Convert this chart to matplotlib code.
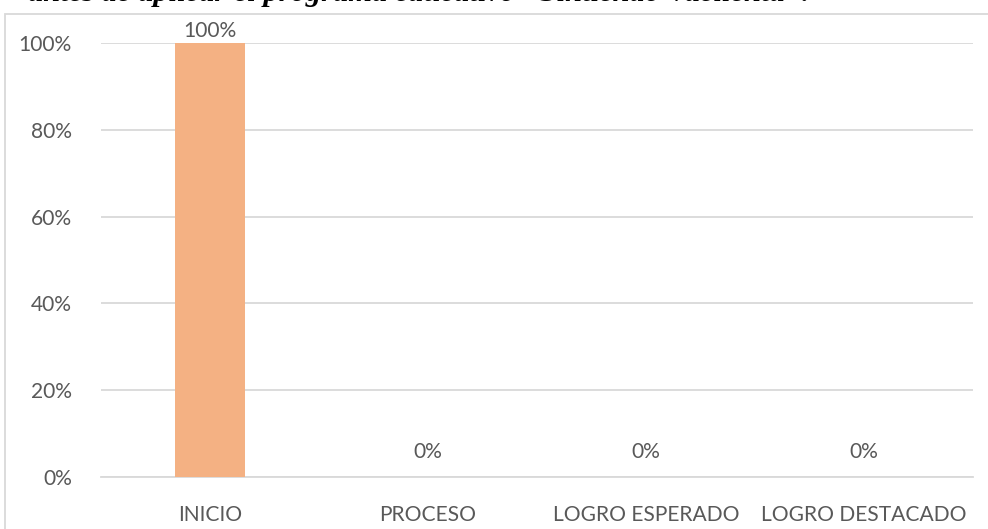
import matplotlib
matplotlib.use("Agg")
import matplotlib.pyplot as plt
from matplotlib.patches import Rectangle
from matplotlib.ticker import FuncFormatter

categories = ["INICIO", "PROCESO", "LOGRO ESPERADO", "LOGRO DESTACADO"]
values = [1.00, 0.00, 0.00, 0.00]
labels = ["100%", "0%", "0%", "0%"]
yticks = [0, 0.2, 0.4, 0.6, 0.8, 1.0]
title = 'antes de aplicar el programa educativo "Sintiendo Vacilenta".'

W, H = 988, 529
dpi = 100
fig = plt.figure(figsize=(W / dpi, H / dpi), dpi=dpi)
fig.patch.set_facecolor("white")

FONT = "Lato"
TXT = "#595959"
GRID = "#D9D9D9"
px = 72 / dpi  # points per pixel

# chart border (extends beyond right/bottom edge)
fig.patches.append(Rectangle((5 / W, -0.1), 1.2, 1 - 14 / H + 0.1,
                             transform=fig.transFigure, fill=False,
                             edgecolor=GRID, linewidth=1.3))

# cropped title (only its lower part is visible, as in the reference)
fig.text(28 / W, 1 - 1 / H, title, family="Liberation Serif",
         fontweight="bold", fontstyle="italic", fontsize=30.5 * px,
         ha="left", va="baseline", color="black")

ax = fig.add_axes([101 / W, 1 - 477 / H, (973 - 101) / W, (477 - 43) / H])
x = list(range(len(categories)))
ax.bar(x, values, width=0.32, color="#F4B183", zorder=3)
ax.set_xlim(-0.5, len(categories) - 0.5)
ax.set_ylim(0, 1)
ax.set_yticks(yticks)
ax.yaxis.set_major_formatter(FuncFormatter(lambda v, p: f"{v:.0%}"))
ax.set_xticks(x)
ax.set_xticklabels(categories)
ax.grid(axis="y", color=GRID, linewidth=1.3, zorder=0)
for s in ["top", "right", "left"]:
    ax.spines[s].set_visible(False)
ax.spines["bottom"].set_color(GRID)
ax.spines["bottom"].set_linewidth(1.3)
ax.tick_params(length=0, labelsize=21 * px, labelcolor=TXT)
ax.tick_params(axis="y", pad=21)
ax.tick_params(axis="x", pad=20)
for t in ax.get_xticklabels() + ax.get_yticklabels():
    t.set_family(FONT)

for xi, v, lab in zip(x, values, labels):
    off = 2 if v > 0 else 15
    ax.annotate(lab, (xi, v), xytext=(0, off), textcoords="offset pixels",
                ha="center", va="bottom", fontsize=21 * px, color=TXT,
                family=FONT)

fig.savefig("out.png", dpi=dpi, facecolor="white")
